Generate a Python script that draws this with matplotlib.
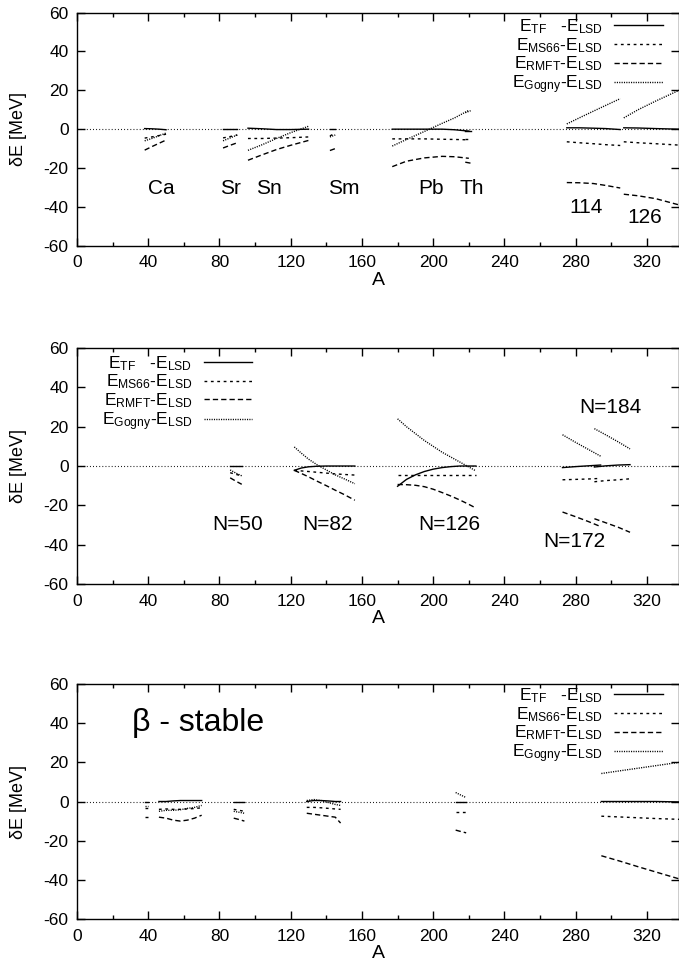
import numpy as np
import matplotlib
matplotlib.use('Agg')
import matplotlib.pyplot as plt
from matplotlib.lines import Line2D
from matplotlib.ticker import MultipleLocator

plt.rcParams['font.family'] = ['Liberation Sans', 'DejaVu Sans']
plt.rcParams['mathtext.default'] = 'regular'
plt.rcParams['axes.unicode_minus'] = False

# ---- panel 1 : isotopic chains ----
A_ca = [38, 42, 46, 50]
tf_ca = [0.3, 0.2, 0.0, -0.3]
ms_ca = [-4.6, -4.0, -3.3, -2.6]
rm_ca = [-10.8, -9.0, -7.3, -5.6]
go_ca = [-6.0, -4.8, -3.4, -2.0]

A_sr = [82, 86, 90]
tf_sr = [0.0, 0.0, 0.0]
ms_sr = [-4.5, -3.8, -3.0]
rm_sr = [-9.7, -8.3, -7.0]
go_sr = [-6.0, -4.5, -3.0]

A_sn = [96, 104, 112, 120, 130]
tf_sn = [0.5, 0.2, -0.2, -0.2, 0.0]
ms_sn = [-4.8, -4.8, -4.6, -4.4, -4.0]
rm_sn = [-16.0, -13.2, -10.5, -8.3, -5.8]
go_sn = [-10.9, -8.0, -4.8, -1.8, 1.5]

A_sm = [142, 145]
tf_sm = [0.0, 0.0]
ms_sm = [-3.5, -2.0]
rm_sm = [-11.0, -10.0]
go_sm = [-4.0, -3.0]

A_pb = [177, 185, 195, 205, 212, 220]
tf_pb = [0.0, 0.0, 0.0, 0.0, -0.3, -1.0]
ms_pb = [-5.0, -5.0, -5.0, -5.2, -5.3, -5.5]
rm_pb = [-19.3, -16.5, -14.8, -14.0, -14.2, -15.0]
go_pb = [-8.7, -5.3, -1.2, 3.0, 5.8, 9.7]

A_th = [218, 221]
tf_th = [-1.0, -1.0]
ms_th = [-5.0, -5.0]
rm_th = [-17.0, -17.5]
go_th = [8.5, 9.5]

A_114 = [275, 282, 290, 297, 305]
tf_114 = [0.7, 0.7, 0.5, 0.3, -0.2]
ms_114 = [-6.5, -7.0, -7.5, -8.0, -8.4]
rm_114 = [-27.5, -27.6, -28.0, -29.0, -30.3]
go_114 = [2.7, 5.8, 9.3, 12.3, 15.7]

A_126 = [307, 315, 325, 338]
tf_126 = [0.7, 0.6, 0.3, 0.0]
ms_126 = [-6.5, -7.0, -7.5, -8.2]
rm_126 = [-33.5, -34.3, -35.8, -39.0]
go_126 = [5.8, 10.0, 14.5, 20.0]

# ---- panel 2 : isotonic chains ----
A_n50 = [86, 89, 92.5]
tf_n50 = [0.0, 0.0, 0.0]
ms_n50 = [-3.4, -4.2, -5.0]
rm_n50 = [-6.0, -7.6, -9.3]
go_n50 = [-2.0, -3.5, -5.0]

A_n82 = [122, 126, 130, 135, 140, 145, 150, 156]
tf_n82 = [-2.2, -1.0, -0.4, -0.1, 0.0, 0.0, 0.0, 0.0]
ms_n82 = [-2.2, -2.5, -2.8, -3.2, -3.6, -4.0, -4.3, -4.6]
rm_n82 = [-2.2, -3.8, -5.5, -7.8, -10.0, -12.3, -14.5, -17.4]
go_n82 = [9.7, 6.5, 3.5, 0.5, -2.0, -4.5, -6.5, -9.0]

A_n126 = [180, 185, 190, 195, 200, 205, 210, 215, 220, 224]
tf_n126 = [-10.3, -6.8, -4.5, -2.8, -1.6, -0.8, -0.3, 0.0, 0.0, 0.0]
ms_n126 = [-4.7, -4.7, -4.7, -4.7, -4.7, -4.7, -4.7, -4.7, -4.7, -4.7]
rm_n126 = [-9.4, -9.5, -9.8, -10.5, -11.8, -13.5, -15.3, -17.3, -19.5, -21.4]
go_n126 = [24.0, 20.0, 16.5, 13.0, 10.0, 7.0, 4.5, 2.0, -0.5, -2.5]

A_n172 = [272.6, 280, 287, 294]
tf_n172 = [-0.8, -0.3, 0.1, 0.5]
ms_n172 = [-7.0, -6.8, -6.6, -6.3]
rm_n172 = [-23.4, -25.8, -28.2, -30.8]
go_n172 = [15.9, 12.0, 8.5, 5.0]

A_n184 = [290.5, 297, 304, 310.5]
tf_n184 = [-0.5, 0.1, 0.5, 0.7]
ms_n184 = [-8.0, -7.4, -7.0, -6.5]
rm_n184 = [-26.8, -28.9, -31.2, -33.7]
go_n184 = [19.0, 15.8, 12.2, 8.7]

# ---- panel 3 : beta-stable line ----
A_b1 = [38, 40]
tf_b1 = [0.0, 0.0]
ms_b1 = [-3.5, -3.5]
rm_b1 = [-8.0, -8.0]
go_b1 = [-2.5, -2.5]

A_b2 = [46, 50, 54, 58, 62, 66, 70]
tf_b2 = [0.0, 0.0, 0.3, 0.5, 0.5, 0.5, 0.5]
ms_b2 = [-4.0, -3.8, -4.0, -4.0, -3.8, -3.6, -3.2]
rm_b2 = [-8.0, -8.5, -9.5, -10.0, -9.5, -8.5, -7.0]
go_b2 = [-5.0, -4.5, -4.5, -4.2, -3.5, -3.0, -2.0]

A_b3 = [88, 91, 94]
tf_b3 = [0.0, 0.0, 0.0]
ms_b3 = [-4.0, -4.5, -5.0]
rm_b3 = [-8.5, -9.2, -10.0]
go_b3 = [-5.0, -5.5, -6.0]

A_b4 = [129, 133, 137, 141, 145, 148]
tf_b4 = [0.0, 0.5, 0.5, 0.3, 0.0, 0.0]
ms_b4 = [-3.0, -3.0, -3.2, -3.5, -3.8, -4.0]
rm_b4 = [-6.0, -6.5, -7.0, -7.5, -8.0, -11.0]
go_b4 = [0.5, 1.0, 0.5, -0.5, -1.5, -2.0]

A_b5 = [212.6, 215, 218.5]
tf_b5 = [0.0, 0.0, 0.0]
ms_b5 = [-5.5, -5.5, -5.5]
rm_b5 = [-14.6, -15.2, -16.0]
go_b5 = [4.6, 3.5, 2.0]

A_b6 = [294.4, 305, 315, 325, 338]
tf_b6 = [0.0, 0.0, 0.0, 0.0, -0.2]
ms_b6 = [-7.5, -7.9, -8.3, -8.7, -9.1]
rm_b6 = [-27.7, -30.5, -33.3, -36.0, -39.5]
go_b6 = [14.3, 15.7, 17.0, 18.3, 20.0]

labels1 = ['Ca', 'Sr', 'Sn', 'Sm', 'Pb', 'Th', '114', '126']
labels1_x = [47.5, 86, 107.5, 150, 199, 221.5, 286, 319]
labels1_y = [-30.5, -30.5, -30.5, -30.5, -30.5, -30.5, -40.5, -45.5]

labels2 = ['N=50', 'N=82', 'N=126', 'N=172', 'N=184']
labels2_x = [90, 140.5, 209, 279, 299.5]
labels2_y = [-29.7, -29.7, -29.7, -38.5, 29.9]

leg_labels = [r'$E_{TF}$   -$E_{LSD}$', r'$E_{MS66}$-$E_{LSD}$',
              r'$E_{RMFT}$-$E_{LSD}$', r'$E_{Gogny}$-$E_{LSD}$']

# line styles: TF, MS66, RMFT, Gogny
styles = [dict(ls='-'), dict(ls=(0, (2.0, 2.6))), dict(ls=(0, (3.8, 2.2))),
          dict(ls=(0, (0.8, 0.9)))]

groups1 = [(A_ca, tf_ca, ms_ca, rm_ca, go_ca), (A_sr, tf_sr, ms_sr, rm_sr, go_sr),
           (A_sn, tf_sn, ms_sn, rm_sn, go_sn), (A_sm, tf_sm, ms_sm, rm_sm, go_sm),
           (A_pb, tf_pb, ms_pb, rm_pb, go_pb), (A_th, tf_th, ms_th, rm_th, go_th),
           (A_114, tf_114, ms_114, rm_114, go_114), (A_126, tf_126, ms_126, rm_126, go_126)]
groups2 = [(A_n50, tf_n50, ms_n50, rm_n50, go_n50), (A_n82, tf_n82, ms_n82, rm_n82, go_n82),
           (A_n126, tf_n126, ms_n126, rm_n126, go_n126), (A_n172, tf_n172, ms_n172, rm_n172, go_n172),
           (A_n184, tf_n184, ms_n184, rm_n184, go_n184)]
groups3 = [(A_b1, tf_b1, ms_b1, rm_b1, go_b1), (A_b2, tf_b2, ms_b2, rm_b2, go_b2),
           (A_b3, tf_b3, ms_b3, rm_b3, go_b3), (A_b4, tf_b4, ms_b4, rm_b4, go_b4),
           (A_b5, tf_b5, ms_b5, rm_b5, go_b5), (A_b6, tf_b6, ms_b6, rm_b6, go_b6)]

fig = plt.figure(figsize=(6.79, 9.73), dpi=100)
# axes boxes in figure fraction
boxes = [[0.1134, 0.7475, 0.8866, 0.2395],
         [0.1134, 0.3998, 0.8866, 0.2425],
         [0.1134, 0.0555, 0.8866, 0.2415]]
legpos = [(0.973, 0.98), (0.291, 0.975), (0.973, 0.99)]


def setup(ax):
    ax.set_xlim(0, 338)
    ax.set_ylim(-60, 60)
    ax.xaxis.set_major_locator(MultipleLocator(40))
    ax.xaxis.set_minor_locator(MultipleLocator(20))
    ax.yaxis.set_major_locator(MultipleLocator(20))
    ax.tick_params(which='both', direction='in', top=True, right=True, labelsize=12.5, width=1)
    ax.tick_params(which='major', length=6)
    ax.tick_params(which='minor', length=3)
    ax.tick_params(axis='x', pad=7)
    ax.tick_params(axis='y', pad=6)
    for s in ax.spines.values():
        s.set_linewidth(1.0)
    ax.axhline(0, color='black', lw=0.8, ls=(0, (0.8, 2.0)))
    ax.set_xlabel('A', fontsize=14, labelpad=1)
    ax.set_ylabel('δE [MeV]', fontsize=13)
    ax.yaxis.set_label_coords(-0.083, 0.5)


all_groups = [groups1, groups2, groups3]
axes = []
for k in range(3):
    ax = fig.add_axes(boxes[k])
    setup(ax)
    for g in all_groups[k]:
        for j in range(4):
            ax.plot(g[0], g[j + 1], color='black', lw=1.0, **styles[j])
    handles = [Line2D([], [], color='black', lw=1.0, **styles[j]) for j in range(4)]
    ax.legend(handles, leg_labels, loc='upper right', bbox_to_anchor=legpos[k],
              frameon=False, markerfirst=False, fontsize=12.5, handlelength=2.8,
              handletextpad=0.65, labelspacing=0.0, borderpad=0, borderaxespad=0)
    axes.append(ax)

for t, x, y in zip(labels1, labels1_x, labels1_y):
    axes[0].text(x, y, t, fontsize=15, ha='center', va='center')
for t, x, y in zip(labels2, labels2_x, labels2_y):
    axes[1].text(x, y, t, fontsize=15, ha='center', va='center')
axes[2].text(31, 40, 'β - stable', fontsize=23, ha='left', va='center')

fig.savefig('out.png', dpi=100)
